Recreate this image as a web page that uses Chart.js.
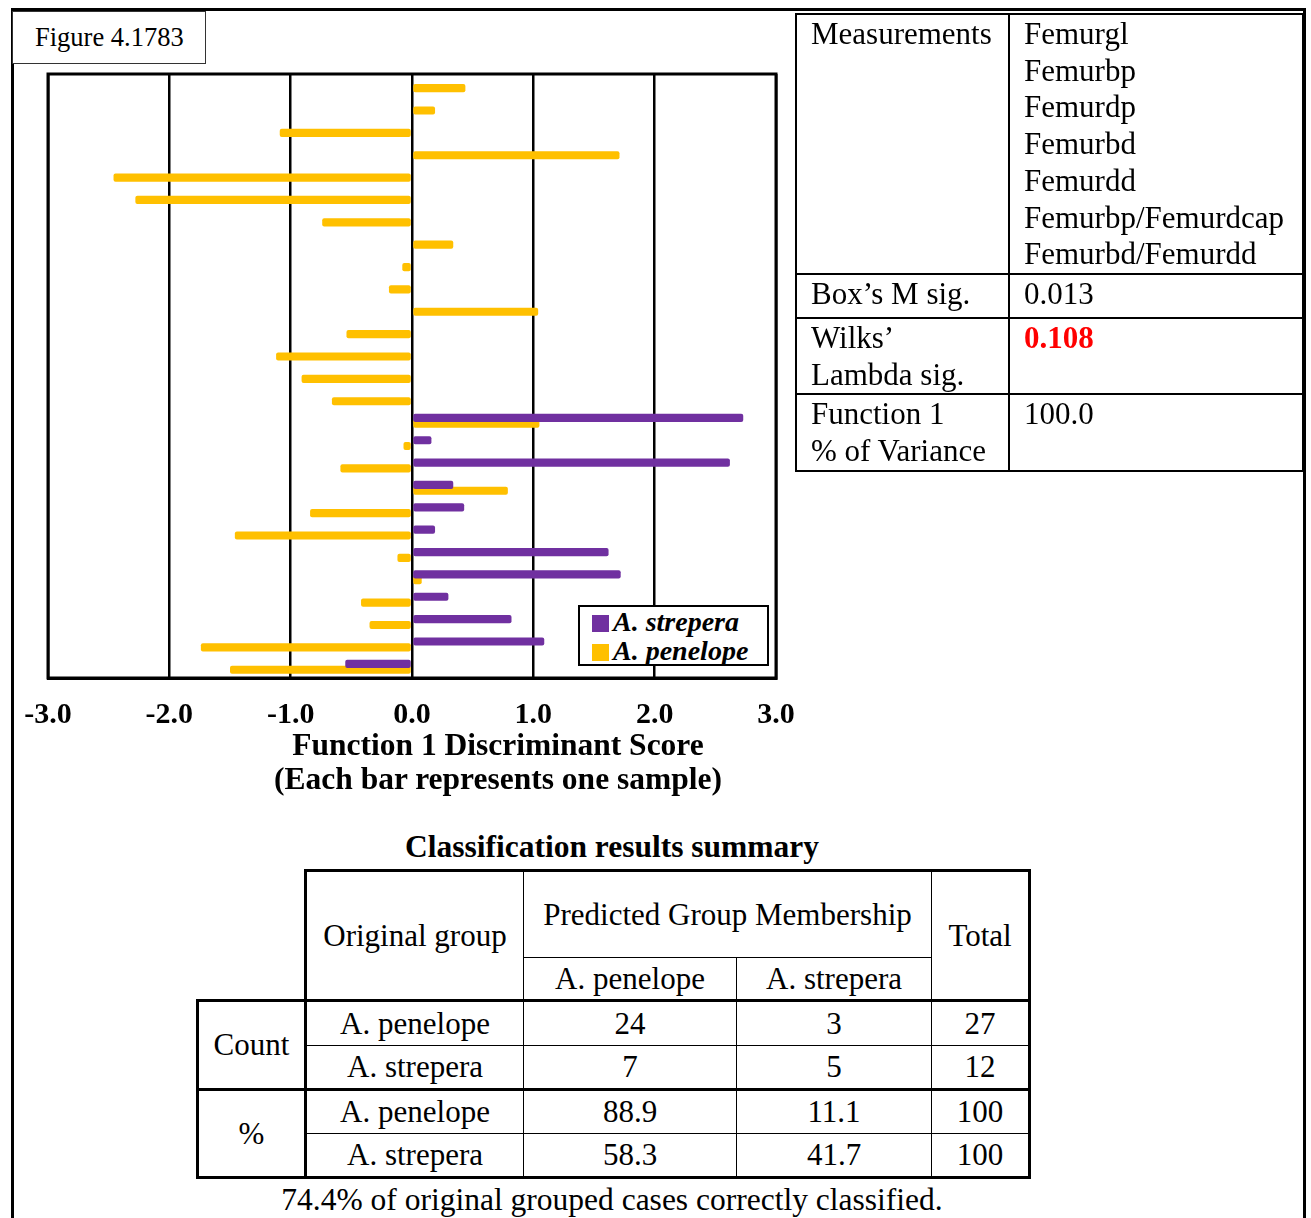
<!DOCTYPE html>
<html>
<head>
<meta charset="utf-8">
<title>Figure 4.1783</title>
<script src="https://cdn.jsdelivr.net/npm/chart.js@4.4.0/dist/chart.umd.min.js"></script>
<style>
  body { margin: 0; background: #fff; color: #000; font-family: 'Liberation Serif', 'Times New Roman', serif; }
  #page { position: relative; width: 1311px; height: 1218px; overflow: hidden; }
  #frame { position: absolute; left: 11px; top: 8px; width: 1295px; height: 1300px; box-sizing: border-box; border: 3px solid #000; border-bottom: none; }
  #chart-box { position: absolute; left: 0; top: 0; width: 830px; height: 810px; }
  #fig-label { position: absolute; left: 12px; top: 11px; width: 194px; height: 53px; box-sizing: border-box; border: 1px solid #333; background: #fff; font-size: 26.5px; line-height: 51px; padding-left: 22px; }
  #legend { position: absolute; left: 578px; top: 605px; width: 191px; height: 61px; box-sizing: border-box; border: 2px solid #000; background: #fff; padding: 0 0 0 12px; }
  #legend .item { height: 29px; line-height: 29px; font-size: 28px; font-weight: bold; font-style: italic; white-space: nowrap; }
  #legend .swatch { display: inline-block; width: 17px; height: 17px; margin-right: 4px; vertical-align: -1px; }
  #axis-title { position: absolute; left: 198px; top: 728px; width: 600px; text-align: center; font-size: 31.5px; font-weight: bold; line-height: 34px; }
  #stats { position: absolute; left: 795px; top: 13px; width: 507px; border-collapse: collapse; table-layout: fixed; font-size: 31px; line-height: 36.7px; }
  #stats td { border: 2px solid #000; vertical-align: top; padding: 1px 0 0 14px; }
  #stats .red { color: #f00; font-weight: bold; }
  #cls-title { position: absolute; left: 312px; top: 830px; width: 600px; text-align: center; font-size: 31.5px; font-weight: bold; line-height: 34px; }
  #cls { position: absolute; left: 196px; top: 869px; width: 835px; border-collapse: collapse; table-layout: fixed; font-size: 31px; line-height: 34px; }
  #cls td { border: 1.5px solid #000; text-align: center; vertical-align: middle; padding: 0; }
  #cls td.tt { border-top-width: 3px; }
  #cls td.bt { border-bottom-width: 3px; }
  #cls td.lt { border-left-width: 3px; }
  #cls td.rt { border-right-width: 3px; }
  #cls td.empty { border-top-style: hidden; border-left-style: hidden; }
  #note { position: absolute; left: 262px; top: 1183px; width: 700px; text-align: center; font-size: 31.5px; line-height: 34px; }
</style>
</head>
<body>
<div id="page">
  <div id="frame"></div>
  <div id="chart-box"><canvas id="chart"></canvas></div>
  <div id="fig-label">Figure 4.1783</div>
  <div id="legend"></div>
  <div id="axis-title">Function 1 Discriminant Score<br>(Each bar represents one sample)</div>

  <table id="stats">
    <colgroup><col style="width:213px"><col style="width:294px"></colgroup>
    <tr style="height:259px"><td>Measurements</td><td>Femurgl<br>Femurbp<br>Femurdp<br>Femurbd<br>Femurdd<br>Femurbp/Femurdcap<br>Femurbd/Femurdd</td></tr>
    <tr style="height:44px"><td>Box’s M sig.</td><td>0.013</td></tr>
    <tr style="height:76px"><td>Wilks’<br>Lambda sig.</td><td class="red">0.108</td></tr>
    <tr style="height:74px"><td>Function 1<br>% of Variance</td><td>100.0</td></tr>
  </table>

  <div id="cls-title">Classification results summary</div>
  <table id="cls">
    <colgroup><col style="width:108px"><col style="width:218px"><col style="width:213px"><col style="width:195px"><col style="width:98px"></colgroup>
    <tr style="height:87px">
      <td class="empty" rowspan="2"></td>
      <td class="tt lt bt" rowspan="2">Original group</td>
      <td class="tt" colspan="2">Predicted Group Membership</td>
      <td class="tt rt bt" rowspan="2">Total</td>
    </tr>
    <tr style="height:43px"><td class="bt">A. penelope</td><td class="bt">A. strepera</td></tr>
    <tr style="height:45px"><td class="tt lt rt bt" rowspan="2">Count</td><td class="tt lt">A. penelope</td><td class="tt">24</td><td class="tt">3</td><td class="tt rt">27</td></tr>
    <tr style="height:44px"><td class="lt bt">A. strepera</td><td class="bt">7</td><td class="bt">5</td><td class="rt bt">12</td></tr>
    <tr style="height:44px"><td class="tt lt rt bt" rowspan="2">%</td><td class="tt lt">A. penelope</td><td class="tt">88.9</td><td class="tt">11.1</td><td class="tt rt">100</td></tr>
    <tr style="height:44px"><td class="lt bt">A. strepera</td><td class="bt">58.3</td><td class="bt">41.7</td><td class="rt bt">100</td></tr>
  </table>
  <div id="note">74.4% of original grouped cases correctly classified.</div>
</div>

<script>
// one row per sample, top to bottom
const samples = ['1', '2', '3', '4', '5', '6', '7', '8', '9', '10', '11', '12', '13', '14',
                 '15', '16', '17', '18', '19', '20', '21', '22', '23', '24', '25', '26', '27'];

// Function 1 discriminant scores
const strepera = [null, null, null, null, null, null, null, null, null, null, null, null, null, null,
                  null, 2.73, 0.16, 2.62, 0.34, 0.43, 0.19, 1.62, 1.72, 0.30, 0.82, 1.09, -0.55];
const penelope = [0.44, 0.19, -1.09, 1.71, -2.46, -2.28, -0.74, 0.34, -0.08, -0.19, 1.04, -0.54, -1.12, -0.91,
                  -0.66, 1.05, -0.07, -0.59, 0.79, -0.84, -1.46, -0.12, 0.08, -0.42, -0.35, -1.74, -1.50];

const xTicks = [-3, -2, -1, 0, 1, 2, 3];

Chart.defaults.font.family = "'Liberation Serif', 'Times New Roman', serif";
Chart.defaults.color = '#000';

// black box round the plot area
const plotFrame = {
    id: 'plotFrame',
    beforeDatasetsDraw(chart) {
        const { ctx, chartArea: a } = chart;
        ctx.save();
        ctx.lineWidth = 3;
        ctx.strokeStyle = '#000';
        ctx.strokeRect(a.left, a.top, a.right - a.left, a.bottom - a.top);
        ctx.restore();
    }
};

const chart = new Chart(document.getElementById('chart'), {
    type: 'bar',
    data: {
        labels: samples,
        datasets: [
            { label: 'A. strepera', data: strepera, backgroundColor: '#7030A0' },
            { label: 'A. penelope', data: penelope, backgroundColor: '#FFC000' }
        ]
    },
    options: {
        indexAxis: 'y',
        responsive: true,
        maintainAspectRatio: false,
        animation: false,
        layout: { padding: { left: 48, right: 54, top: 74, bottom: 0 } },
        datasets: {
            bar: { categoryPercentage: 0.52, barPercentage: 1.4, borderRadius: 2, borderSkipped: false }
        },
        scales: {
            x: {
                min: xTicks[0],
                max: xTicks[xTicks.length - 1],
                afterBuildTicks: scale => { scale.ticks = xTicks.map(v => ({ value: v })); },
                afterFit: scale => { scale.height = 132; },
                ticks: {
                    callback: v => v.toFixed(1),
                    color: '#000',
                    padding: 19,
                    maxRotation: 0,
                    autoSkip: false,
                    font: { size: 30, weight: 'bold', lineHeight: 1.2 }
                },
                grid: { color: '#000', lineWidth: 2.5, drawTicks: false },
                border: { color: '#000', width: 3 }
            },
            y: { display: false }
        },
        plugins: {
            legend: { display: false },
            tooltip: { enabled: false }
        }
    },
    plugins: [plotFrame]
});

// legend box inside the plot, built from the datasets
const legendBox = document.getElementById('legend');
chart.data.datasets.forEach(ds => {
    const item = document.createElement('div');
    item.className = 'item';
    const sw = document.createElement('span');
    sw.className = 'swatch';
    sw.style.background = ds.backgroundColor;
    item.appendChild(sw);
    item.appendChild(document.createTextNode(ds.label));
    legendBox.appendChild(item);
});
</script>
</body>
</html>
